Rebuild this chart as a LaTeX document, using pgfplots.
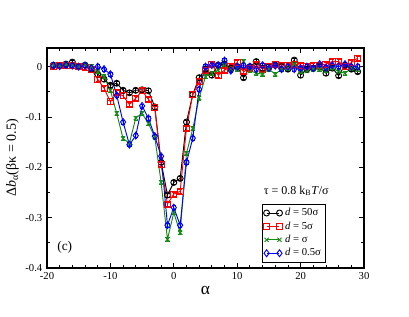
\documentclass[border=0pt]{standalone}
\usepackage{fontspec}
\setmainfont{Liberation Serif}
\usepackage{pgfplots}
\usepackage{pgfplotstable}
\pgfplotsset{compat=1.18}
\definecolor{ggreen}{RGB}{20,140,20}

\pgfplotstableread{
a     k       r       g       b
-19   0.003   0.000   0.003   0.002
-18   0.002   0.002   0.002   0.001
-17   0.005   0.003   0.004   0.003
-16   0.009   0.002   0.003   0.002
-15   0.000   0.000   0.000   0.000
-14   0.003  -0.002   0.003   0.002
-13  -0.005  -0.005   0.000  -0.003
-12  -0.015  -0.025  -0.010   0.000
-11  -0.025  -0.043  -0.020  -0.005
-10  -0.037  -0.070  -0.047  -0.015
-9   -0.033  -0.052  -0.093  -0.057
-8   -0.047  -0.058  -0.143  -0.110
-7   -0.052  -0.075  -0.152  -0.155
-6   -0.047  -0.063  -0.102  -0.137
-5   -0.046  -0.048  -0.093  -0.078
-4   -0.048  -0.065  -0.113  -0.103
-3   -0.080  -0.082  -0.140  -0.138
-2   -0.190  -0.195  -0.230  -0.178
-1   -0.255  -0.273  -0.343  -0.315
0    -0.230  -0.253  -0.290  -0.280
1    -0.222  -0.248  -0.330  -0.315
2    -0.110  -0.122  -0.172  -0.190
3    -0.055  -0.055  -0.123  -0.142
4    -0.022  -0.030  -0.062  -0.045
5    -0.005  -0.008  -0.020   0.000
6    -0.017   0.005  -0.013   0.003
7     0.003  -0.017  -0.007   0.003
8     0.005  -0.007   0.003   0.012
9    -0.003   0.000  -0.005  -0.008
10    0.000   0.008  -0.005   0.000
11   -0.022  -0.010   0.010   0.002
12    0.000  -0.003  -0.008   0.000
13    0.010   0.005  -0.013  -0.005
14   -0.003  -0.005  -0.015   0.003
15    0.000   0.000  -0.005  -0.003
16    0.003   0.005  -0.015   0.002
17    0.000   0.003  -0.005  -0.005
18   -0.005   0.003  -0.003   0.000
19    0.013   0.005   0.005  -0.005
20   -0.017   0.003  -0.010  -0.003
21   -0.005   0.000  -0.008   0.000
22   -0.003   0.002  -0.005  -0.003
23    0.000   0.003  -0.005   0.005
24   -0.013   0.005  -0.008  -0.002
25   -0.003   0.010  -0.003   0.003
26   -0.018   0.010  -0.010   0.000
27    0.003   0.000  -0.013   0.005
28   -0.005   0.008  -0.003   0.000
29   -0.010   0.017  -0.005   0.000
}\data

\begin{document}
\begin{tikzpicture}
\begin{axis}[
  name=ax,
  scale only axis,
  width=237.75pt, height=165pt,
  xmin=-20, xmax=30, ymin=-0.4, ymax=0.037,
  xtick={-20,-10,...,30},
  ytick={-0.4,-0.3,-0.2,-0.1,0},
  yticklabels={-0.4,-0.3,-0.2,-0.1,0},
  minor x tick num=4,
  minor y tick num=1,
  tick align=inside,
  major tick length=3.8pt,
  minor tick length=2pt,
  axis line style={line width=0.8pt},
  every tick/.style={black, line width=0.6pt},
  /pgf/number format/assume math mode=true,
  tick label style={font=\fontsize{8}{9}\selectfont},
  xticklabel={\pgfmathprintnumber[assume math mode=true]{\tick}},
  xlabel={\fontsize{13}{14}\selectfont α},
  xlabel style={yshift=2pt},
  ylabel={\fontsize{10.5}{12}\selectfont Δ\textit{b}\textsubscript{α}(βκ = 0.5)},
  ylabel style={yshift=-2pt},
  legend style={at={(0.678,0.291)}, anchor=north west, draw=black, line width=0.5pt,
    font=\fontsize{8}{9}\selectfont, inner sep=1pt, row sep=-1pt,
    cells={anchor=west}},
  legend image code/.code={\draw[#1] plot coordinates {(0cm,0cm) (0.34cm,0cm)};},
  every axis plot/.append style={line width=0.7pt, mark size=2.25pt,
    error bars/y dir=both, error bars/y fixed=0.004,
    error bars/error bar style={line width=0.5pt},
    error bars/error mark options={rotate=90, mark size=1.6pt, line width=0.5pt}},
]
\addplot[black, mark=o, mark options={solid}] table[x=a,y=k] {\data};
\addlegendentry{\textit{d} = 50σ}
\addplot[red, mark=square, mark options={solid}] table[x=a,y=r] {\data};
\addlegendentry{\textit{d} = 5σ}
\addplot[ggreen, mark=x, mark size=2.2pt] table[x=a,y=g] {\data};
\addlegendentry{\textit{d} = σ}
\addplot[blue, mark=diamond, mark options={solid}, mark size=2.6pt] table[x=a,y=b] {\data};
\addlegendentry{\textit{d} = 0.5σ}
\node[font=\fontsize{9}{10}\selectfont] at (axis cs:19.3,-0.247) {τ = 0.8 k\textsubscript{B}\textit{T}/σ};
\node[font=\fontsize{10}{11}\selectfont] at (axis cs:-17.2,-0.358) {(c)};
\end{axis}
\path[draw=none] ([shift={(-35.25pt,-36pt)}]ax.south west) rectangle ([shift={(33.75pt,36pt)}]ax.north east);
\end{tikzpicture}
\end{document}
